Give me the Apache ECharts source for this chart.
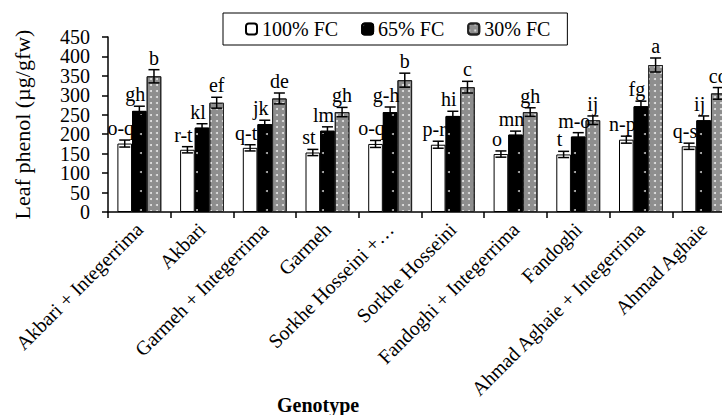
<!DOCTYPE html>
<html><head><meta charset="utf-8">
<script src="https://cdn.jsdelivr.net/npm/echarts@6/dist/echarts.min.js"></script>
<style>html,body{margin:0;padding:0;background:#fff;overflow:hidden;width:722px;height:415px}#c{width:735px;height:415px}</style>
</head><body><div id="c"></div>
<script>
var categories = ['Akbari + Integerrima','Akbari','Garmeh + Integerrima','Garmeh','Sorkhe Hosseini +\u2026','Sorkhe Hosseini','Fandoghi + Integerrima','Fandoghi','Ahmad Aghaie + Integerrima','Ahmad Aghaie'];
var seriesNames = ['100% FC','65% FC','30% FC'];
var fc100 = [176,160,165,153,175,173,149,148,186,169];
var fc65  = [260,217,226,209,257,247,199,194,272,236];
var fc30  = [349,281,292,257,339,321,257,236,378,305];
var err100 = [9,8,8,8,9,9,8,8,9,8];
var err65  = [12,10,10,10,13,12,9,10,13,11];
var err30  = [17,14,14,12,18,15,11,11,18,15];
var let100 = ['o-q','r-t','q-t','st','o-q','p-r','o','t','n-p','q-s'];
var let65  = ['gh','kl','jk','lm','g-h','hi','mn','m-o','fg','ij'];
var let30  = ['b','ef','de','gh','b','c','gh','ij','a','cd'];
var yTicks = {min:0, max:450, interval:50};

var vals = [fc100, fc65, fc30], errs = [err100, err65, err30], lets = [let100, let65, let30];
var errData = [];
for (var s = 0; s < 3; s++) for (var i = 0; i < categories.length; i++) errData.push([i, vals[s][i], errs[s][i], s, lets[s][i]]);

var FONT = 'Liberation Serif, Times New Roman, serif';
var chart = echarts.init(document.getElementById('c'), null, {renderer:'svg'});
var styles = [
  {color:'#ffffff', borderColor:'#000', borderWidth:1},
  {color:'#000000', borderColor:'#000', borderWidth:1, decal:{symbol:'circle', color:'#bbbbbb', dashArrayX:[2,12], dashArrayY:[2,17], symbolSize:1}},
  {color:'#8e8e8e', borderColor:'#222', borderWidth:1, decal:{symbol:'circle', color:'#e6e6e6', dashArrayX:[2,4], dashArrayY:[2,4], symbolSize:1}}
];
var barSeries = seriesNames.map(function(n, k){
  return {name:n, type:'bar', data:vals[k], barGap:'0%', barCategoryGap:'30%', itemStyle:styles[k], emphasis:{disabled:true}, animation:false};
});
barSeries.push({
  type:'custom', data:errData, z:10, animation:false, silent:true,
  renderItem:function(params, api){
    var ci = api.value(0), v = api.value(1), e = api.value(2), s = api.value(3);
    var txt = errData[params.dataIndex][4];
    var band = api.size([1,0])[0];
    var bw = band*0.7/3;
    var x = api.coord([ci, v])[0] + (s-1)*bw;
    var yt = api.coord([ci, v+e])[1], yb = api.coord([ci, v-e])[1];
    var cw = 5.5;
    var ls = {stroke:'#000', lineWidth:1.5};
    return {type:'group', children:[
      {type:'line', shape:{x1:x, y1:yt, x2:x, y2:yb}, style:ls},
      {type:'line', shape:{x1:x-cw, y1:yt, x2:x+cw, y2:yt}, style:ls},
      {type:'line', shape:{x1:x-cw, y1:yb, x2:x+cw, y2:yb}, style:ls},
      {type:'text', style:{text:txt, x:x + (s<2?-4:0), y:yt-2, align:'center', verticalAlign:'bottom', font:'20px '+FONT, fill:'#000'}}
    ]};
  }
});

var yLabelBase = {fontSize:20, fontFamily:FONT, color:'#000', margin:18, showMinLabel:true, showMaxLabel:true, hideOverlap:false};
function oddTick(v){ return (v/yTicks.interval) % 2 === 1; }

chart.setOption({
  animation:false,
  textStyle:{fontFamily:FONT, color:'#000'},
  title:{text:'Genotype', left:272, top:390, textStyle:{fontFamily:FONT, fontSize:20, fontWeight:'bold', color:'#000'}},
  legend:{data:seriesNames, left:223, top:13, padding:[6,17,6,22], borderColor:'#000', borderWidth:1, itemWidth:11, itemHeight:11, itemGap:23,
    textStyle:{fontFamily:FONT, fontSize:20, color:'#000'}, selectedMode:false},
  grid:{left:108, right:0, top:37, bottom:203},
  xAxis:{type:'category', data:categories,
    axisLine:{lineStyle:{color:'#000', width:1.5}},
    axisTick:{show:true, length:6, lineStyle:{color:'#000', width:1.5}},
    axisLabel:{rotate:45, interval:0, fontSize:20, fontFamily:FONT, color:'#000', margin:14}},
  yAxis:[{type:'value', min:yTicks.min, max:yTicks.max, interval:yTicks.interval,
    name:'Leaf phenol (\u00b5g/gfw)', nameLocation:'middle', nameGap:75, nameTextStyle:{fontFamily:FONT, fontSize:22, color:'#000'},
    axisLine:{show:true, lineStyle:{color:'#000', width:1.5}},
    axisTick:{show:true, length:6, lineStyle:{color:'#000', width:1.5}},
    splitLine:{show:false},
    axisLabel:Object.assign({formatter:function(v){ return oddTick(v) ? '' : String(v); }}, yLabelBase)},
   {type:'value', position:'left', min:yTicks.min, max:yTicks.max, interval:yTicks.interval,
    axisLine:{show:false}, axisTick:{show:false}, splitLine:{show:false},
    axisLabel:Object.assign({formatter:function(v){ return oddTick(v) ? String(v) : ''; }}, yLabelBase)}],
  series:barSeries
});
</script></body></html>
